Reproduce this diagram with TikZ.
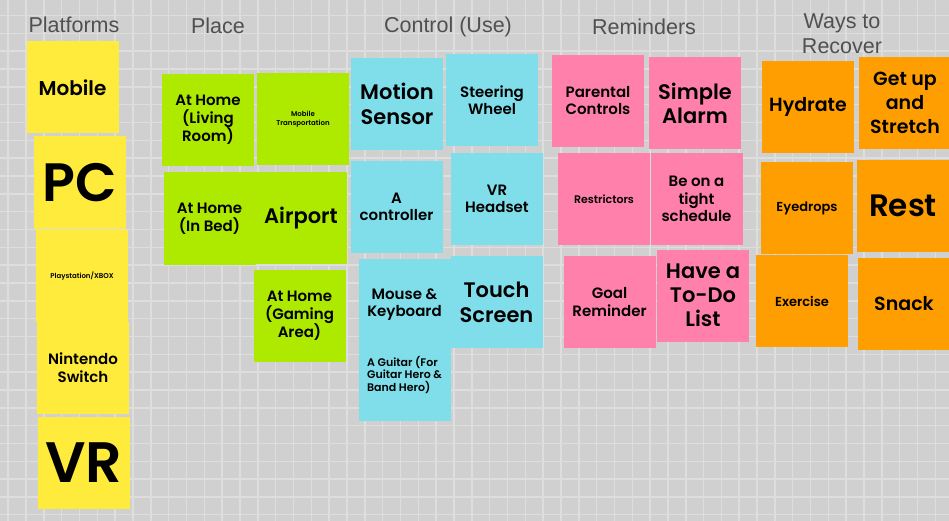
\documentclass[tikz,border=0pt]{standalone}
\usepackage{fontspec}
\setmainfont{Liberation Sans}
\newfontfamily\notefont{Poppins}[BoldFont={Poppins SemiBold}]
\newcommand{\notefs}[2]{\notefont\bfseries\fontsize{#1}{#2}\selectfont}
\definecolor{boardbg}{HTML}{D0D0D0}
\definecolor{boardline}{HTML}{DEDEDE}
\definecolor{headgray}{HTML}{505050}
\definecolor{notey}{HTML}{FFEB3B}
\definecolor{noteg}{HTML}{AEEA00}
\definecolor{notec}{HTML}{80DEEA}
\definecolor{notep}{HTML}{FF80AB}
\definecolor{noteo}{HTML}{FF9E00}
\tikzset{
	note/.style={rectangle, inner sep=0pt, minimum width=92pt, minimum height=92pt, align=center, text=black},
	heading/.style={text=headgray, font=\fontsize{21.5}{25}\selectfont, align=center, inner sep=0pt},
}
\begin{document}
\begin{tikzpicture}[x=1pt,y=-1pt]
			% Board
			\useasboundingbox (0,0) rectangle (949,521);
			\clip (0,0) rectangle (949,521);
			\fill[boardbg] (0,0) rectangle (949,521);
			\foreach \i in {0,...,52} {
					\draw[boardline, line width=1.5pt] (8.2+\i*17.83,0) -- ++(0,521);
				}
			\foreach \j in {0,...,28} {
					\draw[boardline, line width=1.5pt] (0,15.5+\j*17.83) -- ++(949,0);
				}
			% Headings
			\node[heading] (hplat) at (74,25) {Platforms};
			\node[heading] (hplace) at (218,26) {Place};
			\node[heading] (hctrl) at (448,27) {Control (Use)};
			\node[heading] (hremind) at (644,27) {Reminders};
			\node[heading] (hrecover) at (842,34) {Ways to\\Recover};
			% Platforms
			\node[note, fill=notey, font={\notefs{20}{24}}] (mobile) at (72.5,87.5) {Mobile};
			\node[note, fill=notey, font={\notefs{54}{60}}] (pc) at (79.5,182.5) {PC};
			\node[note, fill=notey, font={\notefs{7}{8}}] (console) at (82,276) {Playstation/XBOX};
			\node[note, fill=notey, font={\notefs{15}{18}}] (switch) at (83,367.5) {Nintendo\\Switch};
			\node[note, fill=notey, font={\notefs{57}{62}}] (vr) at (84,463) {VR};
			% Place
			\node[note, fill=noteg, font={\notefs{15}{17.5}}] (livroom) at (208,120) {At Home\\(Living\\Room)};
			\node[note, fill=noteg, font={\notefs{7}{8.5}}] (mobtrans) at (303,119) {Mobile\\Transportation};
			\node[note, fill=noteg, font={\notefs{15}{17.5}}] (inbed) at (209.5,218.5) {At Home\\(In Bed)};
			\node[note, fill=noteg, font={\notefs{21}{25}}] (airport) at (301,218) {Airport};
			\node[note, fill=noteg, font={\notefs{15}{17.5}}] (gaming) at (299.5,316) {At Home\\(Gaming\\Area)};
			% Control (Use)
			\node[note, fill=notec, font={\notefs{21}{25}}] (motion) at (397,104) {Motion\\Sensor};
			\node[note, fill=notec, font={\notefs{15}{17}}] (steering) at (492,100.5) {Steering\\Wheel};
			\node[note, fill=notec, font={\notefs{15}{17}}] (acontrol) at (396.5,207) {A\\controller};
			\node[note, fill=notec, font={\notefs{15}{17}}] (vrhead) at (497,199) {VR\\Headset};
			\node[note, fill=notec, font={\notefs{15}{17}}] (mousekb) at (404.5,305) {Mouse \&\\Keyboard};
			\node[note, fill=notec, font={\notefs{21}{25}}] (touch) at (496.5,302) {Touch\\Screen};
			\node[note, fill=notec, align=left, font={\notefs{11}{12.5}}] (guitar) at (404.5,374.5) {A Guitar (For\\Guitar Hero \&\\Band Hero)};
			% Reminders
			\node[note, fill=notep, font={\notefs{15}{17}}] (parental) at (598,101) {Parental\\Controls};
			\node[note, fill=notep, font={\notefs{21}{24}}] (alarm) at (695,103) {Simple\\Alarm};
			\node[note, fill=notep, font={\notefs{11}{13}}] (restrict) at (604,199) {Restrictors};
			\node[note, fill=notep, font={\notefs{15}{17.5}}] (tight) at (696.5,199) {Be on a\\tight\\schedule};
			\node[note, fill=notep, font={\notefs{15}{17.5}}] (goal) at (609.5,302) {Goal\\Reminder};
			\node[note, fill=notep, font={\notefs{21}{24}}] (todo) at (703,295.5) {Have a\\To-Do\\List};
			% Ways to Recover
			\node[note, fill=noteo, font={\notefs{19}{24}}] (hydrate) at (808,107) {Hydrate};
			\node[note, fill=noteo, font={\notefs{19}{24}}] (stretch) at (905,103) {Get up\\and\\Stretch};
			\node[note, fill=noteo, font={\notefs{13}{16}}] (eyedrops) at (807,208) {Eyedrops};
			\node[note, fill=noteo, font={\notefs{31}{36}}] (rest) at (903,206) {Rest};
			\node[note, fill=noteo, font={\notefs{13}{16}}] (exercise) at (802,301) {Exercise};
			\node[note, fill=noteo, font={\notefs{19}{24}}] (snack) at (904,303.5) {Snack};
		\end{tikzpicture}
\end{document}
